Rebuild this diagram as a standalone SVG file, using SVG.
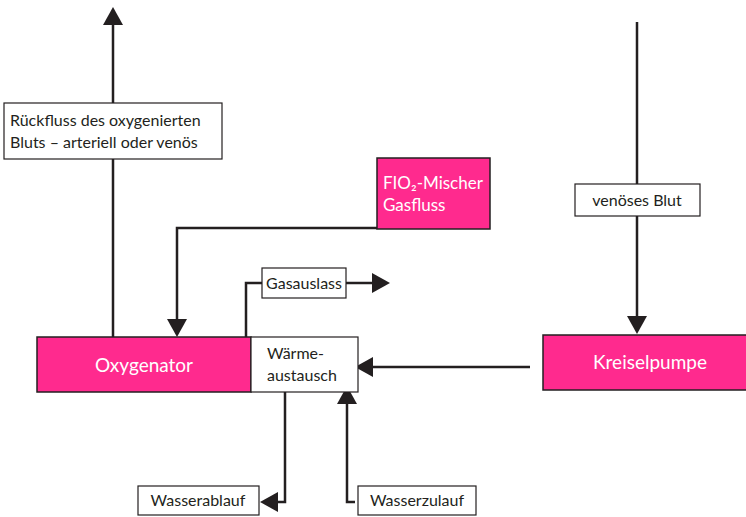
<svg xmlns="http://www.w3.org/2000/svg" width="746" height="517" viewBox="0 0 746 517">
<style>
.pink{fill:#ff2a8e;stroke:#231f20;stroke-width:1.5}
.box{fill:#fff;stroke:#231f20;stroke-width:1.2}
.t{font-family:Lato,"Open Sans",sans-serif;font-size:16px;fill:#231f20}
.w{font-family:Lato,"Open Sans",sans-serif;font-size:19px;fill:#fff}
.c{fill:none;stroke:#231f20;stroke-width:2.5}
.ah{fill:#231f20;stroke:none}
</style>
<g id="connectors">
<path class="c" d="M113,337 V24"/>
<path class="ah" d="M113,7 L123,25 L103,25 z"/>
<path class="c" d="M377,228 H177 V320"/>
<path class="ah" d="M177,337 L167,319 L187,319 z"/>
<path class="c" d="M246,337 V283 H262"/>
<path class="c" d="M346,283 H374"/>
<path class="ah" d="M390,283 L372,273 L372,293 z"/>
<path class="c" d="M637,22 V318"/>
<path class="ah" d="M637,334 L627,316 L647,316 z"/>
<path class="c" d="M530,367 H371"/>
<path class="ah" d="M355,367 L373,357 L373,377 z"/>
<path class="c" d="M285,392 V502 H276"/>
<path class="ah" d="M260,502 L278,492 L278,512 z"/>
<path class="c" d="M355,502 H347 V402"/>
<path class="ah" d="M347,386 L357,404 L337,404 z"/>
</g>
<g id="rueckfluss">
<rect class="box" x="4" y="103" width="218" height="56"/>
<text class="t" x="10" y="126">Rückfluss des oxygenierten</text>
<text class="t" x="10" y="148">Bluts – arteriell oder venös</text>
</g>
<g id="fio2">
<rect class="pink" x="377" y="158" width="113" height="71"/>
<text class="w" x="383" y="189" style="font-size:17px">FIO₂-Mischer</text>
<text class="w" x="383" y="211" style="font-size:17px">Gasfluss</text>
</g>
<g id="gasauslass">
<rect class="box" x="262" y="268" width="84" height="30"/>
<text class="t" x="304" y="289" text-anchor="middle">Gasauslass</text>
</g>
<g id="venoes">
<rect class="box" x="575" y="184" width="125" height="32"/>
<text class="t" x="637" y="206" text-anchor="middle">venöses Blut</text>
</g>
<g id="oxygenator">
<rect class="pink" x="37" y="337" width="214" height="55"/>
<text class="w" x="144" y="372" text-anchor="middle">Oxygenator</text>
</g>
<g id="waerme">
<rect class="box" x="251" y="337" width="107" height="55"/>
<text class="t" x="267" y="359">Wärme-</text>
<text class="t" x="267" y="381">austausch</text>
</g>
<g id="kreiselpumpe">
<rect class="pink" x="543" y="335" width="205" height="55"/>
<text class="w" x="650" y="369" text-anchor="middle">Kreiselpumpe</text>
</g>
<g id="wasserablauf">
<rect class="box" x="138" y="486" width="121" height="29"/>
<text class="t" x="198" y="506" text-anchor="middle">Wasserablauf</text>
</g>
<g id="wasserzulauf">
<rect class="box" x="358" y="486" width="118" height="29"/>
<text class="t" x="417" y="506" text-anchor="middle">Wasserzulauf</text>
</g>
</svg>
